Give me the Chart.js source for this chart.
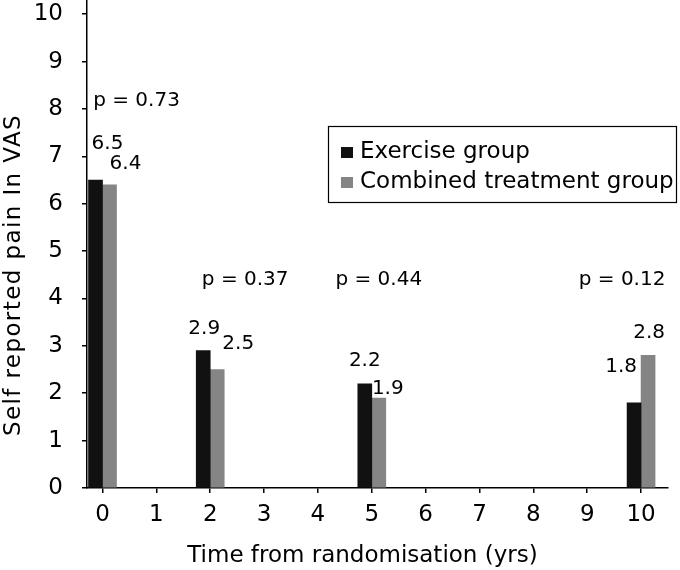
<!DOCTYPE html>
<html lang="en">
<head>
<meta charset="UTF-8">
<title>Self reported pain In VAS</title>
<script src="https://cdn.jsdelivr.net/npm/chart.js"></script>
<style>
  html, body { margin: 0; padding: 0; background: #fff; }
  #wrap { width: 680px; height: 570px; }
</style>
</head>
<body>
<div id="wrap"><canvas id="chart" width="680" height="570"></canvas></div>
<script>
// data
const years = [0, 2, 5, 10];
const exercise = [6.5, 2.9, 2.2, 1.8];
const combined = [6.4, 2.5, 1.9, 2.8];
const pValues = ["p = 0.73", "p = 0.37", "p = 0.44", "p = 0.12"];
const seriesNames = ["Exercise group", "Combined treatment group"];
const xTitle = "Time from randomisation (yrs)";
const yTitle = "Self reported pain In VAS";

// label placement (px offsets from bar top / tick)
const valueOffsets = [
  [[12, -38], [1, -24], [0, -25], [-13, -38]],
  [[16, -23], [21, -28], [9, -11], [1, -25]]
];
const pOffsets = [[34, 8.22], [35, 4.43], [7, 4.43], [-19, 4.43]];

const FONT = "'DejaVu Sans', sans-serif";
const colors = ["#111111", "#858585"];

const annotate = {
  id: "annotate",
  afterDraw(chart) {
    const c = chart.ctx;
    const xs = chart.scales.x, ys = chart.scales.y;
    c.save();
    c.fillStyle = "#000";

    // value labels
    c.font = "20px " + FONT;
    c.textAlign = "center";
    c.textBaseline = "alphabetic";
    chart.data.datasets.forEach((ds, d) => {
      chart.getDatasetMeta(d).data.forEach((bar, i) => {
        const [dx, dy] = valueOffsets[d][i];
        c.fillText(ds.data[i].y.toFixed(1), bar.x + dx, bar.y + dy + 7.3);
      });
    });

    // p values
    pValues.forEach((p, i) => {
      const [dx, v] = pOffsets[i];
      c.fillText(p, xs.getPixelForValue(years[i]) + dx, ys.getPixelForValue(v) + 7.3);
    });

    // legend box
    c.lineWidth = 1.2;
    c.strokeStyle = "#000";
    c.strokeRect(328.5, 126.5, 348, 76);
    c.font = "23px " + FONT;
    c.textAlign = "left";
    seriesNames.forEach((name, i) => {
      c.fillStyle = colors[i];
      c.fillRect(341, 147 + i * 30, 12, 11);
      c.fillStyle = "#000";
      c.fillText(name, 360, 158 + i * 30);
    });

    // axis titles
    c.textAlign = "center";
    c.fillText(xTitle, 362.5, 562);
    c.translate(20, 275);
    c.rotate(-Math.PI / 2);
    c.letterSpacing = "1.4px";
    c.fillText(yTitle, 0, 0);
    c.restore();
  }
};

const ctx = document.getElementById("chart").getContext("2d");
new Chart(ctx, {
  type: "bar",
  data: {
    datasets: [
      {
        label: seriesNames[0],
        data: years.map((t, i) => ({ x: t, y: exercise[i] })),
        backgroundColor: colors[0],
        barThickness: 14
      },
      {
        label: seriesNames[1],
        data: years.map((t, i) => ({ x: t, y: combined[i] })),
        backgroundColor: colors[1],
        barThickness: 14
      }
    ]
  },
  options: {
    responsive: false,
    animation: false,
    layout: { padding: { left: 0, right: 12, top: 0, bottom: 0 } },
    plugins: { legend: { display: false }, tooltip: { enabled: false } },
    scales: {
      x: {
        type: "linear",
        min: -0.288,
        max: 10.5,
        offset: false,
        ticks: {
          stepSize: 1, includeBounds: false, maxRotation: 0, padding: 8,
          color: "#000", font: { family: FONT, size: 23 }
        },
        grid: {
          display: true, drawOnChartArea: false, drawTicks: true,
          tickLength: 5, color: "#000", lineWidth: 1.5, offset: false
        },
        border: { color: "#000", width: 1.5 },
        afterFit: (s) => { s.height = 82; s.paddingLeft = 0; s.paddingRight = 0; }
      },
      y: {
        min: 0,
        max: 10.3,
        ticks: {
          stepSize: 1, includeBounds: false, padding: 19,
          color: "#000", font: { family: FONT, size: 23 }
        },
        grid: {
          display: true, drawOnChartArea: false, drawTicks: true,
          tickLength: 5, color: "#000", lineWidth: 1.5
        },
        border: { color: "#000", width: 1.5 },
        afterFit: (s) => { s.width = 87; s.paddingTop = 0; s.paddingBottom = 0; }
      }
    }
  },
  plugins: [annotate]
});
</script>
</body>
</html>
